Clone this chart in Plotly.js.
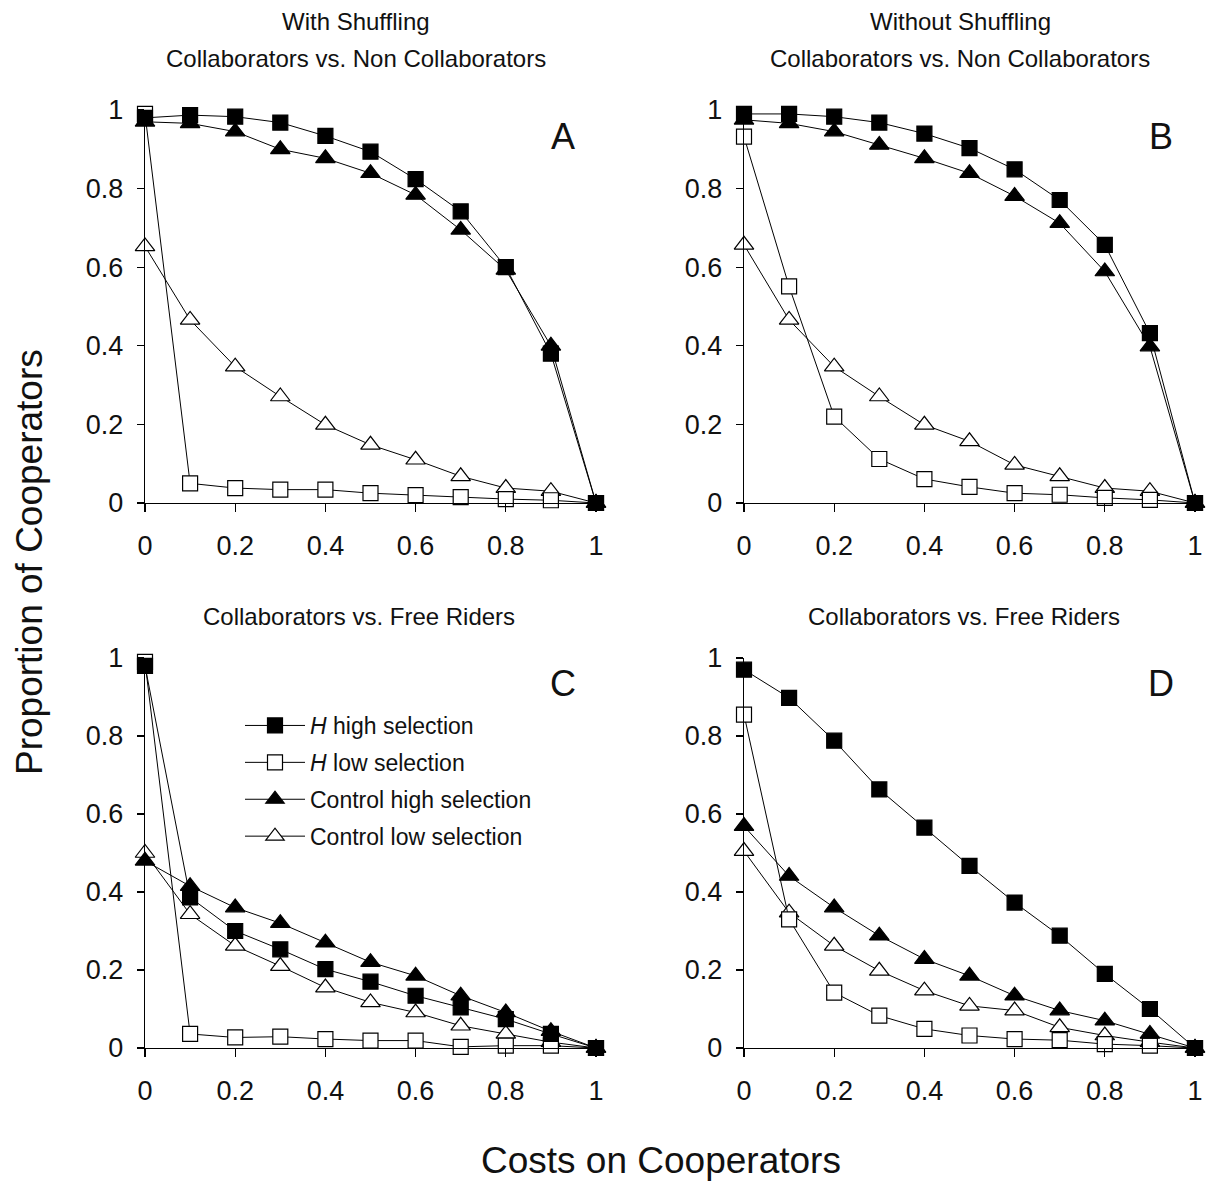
<!DOCTYPE html>
<html>
<head>
<meta charset="utf-8">
<script src="https://cdn.plot.ly/plotly-3.0.1.min.js"></script>
<style>html,body{margin:0;padding:0;background:#fff;}#chart{width:1215px;height:1184px;}</style>
</head>
<body>
<div id="chart"></div>
<script>
// Costs on cooperators (x values shared by all panels)
const costs = [0, 0.1, 0.2, 0.3, 0.4, 0.5, 0.6, 0.7, 0.8, 0.9, 1];
const seriesNames = ["<i>H</i> high selection", "<i>H</i> low selection", "Control high selection", "Control low selection"];
const panelLabels = ["A", "B", "C", "D"];
const titlesTop = ["With Shuffling", "Without Shuffling"];
const titlesA = "Collaborators vs. Non Collaborators";
const titlesC = "Collaborators vs. Free Riders";
const xTitle = "Costs on Cooperators";
const yTitle = "Proportion of Cooperators";

// Panel A: with shuffling, collaborators vs non collaborators
const A_hHigh = [0.98, 0.987, 0.983, 0.968, 0.934, 0.894, 0.824, 0.742, 0.60, 0.38, 0];
const A_hLow  = [0.99, 0.05, 0.038, 0.034, 0.034, 0.025, 0.02, 0.015, 0.01, 0.007, 0];
const A_cHigh = [0.97, 0.966, 0.945, 0.90, 0.877, 0.839, 0.784, 0.695, 0.593, 0.40, 0];
const A_cLow  = [0.653, 0.466, 0.347, 0.271, 0.199, 0.148, 0.11, 0.068, 0.038, 0.03, 0];

// Panel B: without shuffling, collaborators vs non collaborators
const B_hHigh = [0.99, 0.99, 0.983, 0.968, 0.94, 0.903, 0.849, 0.771, 0.657, 0.432, 0];
const B_hLow  = [0.932, 0.551, 0.22, 0.112, 0.061, 0.041, 0.025, 0.021, 0.013, 0.008, 0];
const B_cHigh = [0.975, 0.966, 0.945, 0.911, 0.877, 0.839, 0.781, 0.712, 0.589, 0.398, 0];
const B_cLow  = [0.657, 0.466, 0.347, 0.271, 0.199, 0.157, 0.097, 0.068, 0.038, 0.03, 0];

// Panel C: with shuffling, collaborators vs free riders
const C_hHigh = [0.98, 0.386, 0.30, 0.253, 0.202, 0.17, 0.134, 0.104, 0.074, 0.036, 0];
const C_hLow  = [0.99, 0.036, 0.027, 0.029, 0.023, 0.019, 0.019, 0.003, 0.006, 0.006, 0];
const C_cHigh = [0.48, 0.415, 0.36, 0.32, 0.27, 0.22, 0.185, 0.134, 0.091, 0.043, 0];
const C_cLow  = [0.50, 0.343, 0.262, 0.21, 0.155, 0.117, 0.091, 0.057, 0.036, 0.015, 0];

// Panel D: without shuffling, collaborators vs free riders
const D_hHigh = [0.97, 0.898, 0.788, 0.663, 0.565, 0.467, 0.373, 0.288, 0.19, 0.10, 0];
const D_hLow  = [0.855, 0.33, 0.142, 0.083, 0.049, 0.032, 0.023, 0.02, 0.01, 0.006, 0];
const D_cHigh = [0.569, 0.441, 0.36, 0.288, 0.228, 0.185, 0.134, 0.096, 0.07, 0.036, 0];
const D_cLow  = [0.505, 0.347, 0.262, 0.198, 0.147, 0.108, 0.096, 0.053, 0.032, 0.015, 0];

const panels = [
  {hHigh: A_hHigh, hLow: A_hLow, cHigh: A_cHigh, cLow: A_cLow},
  {hHigh: B_hHigh, hLow: B_hLow, cHigh: B_cHigh, cLow: B_cLow},
  {hHigh: C_hHigh, hLow: C_hLow, cHigh: C_cHigh, cLow: C_cLow},
  {hHigh: D_hHigh, hLow: D_hLow, cHigh: D_cHigh, cLow: D_cLow}
];

const W = 1215, H = 1184;
const FONT = "Liberation Sans, Arial, sans-serif";
const xDom = [[145 / W, 596 / W], [744 / W, 1195 / W]];
const yDom = [[(H - 503) / H, (H - 110) / H], [(H - 1048) / H, (H - 658) / H]];

const styles = [
  {key: "cLow",  name: seriesNames[3], symbol: "triangle-up", size: 17, fill: "#ffffff", g: "g4"},
  {key: "hLow",  name: seriesNames[1], symbol: "square", size: 15, fill: "#ffffff", g: "g2"},
  {key: "cHigh", name: seriesNames[2], symbol: "triangle-up", size: 17, fill: "#000000", g: "g3"},
  {key: "hHigh", name: seriesNames[0], symbol: "square", size: 15, fill: "#000000", g: "g1"}
];
const legendOrder = {g1: 1, g2: 2, g3: 3, g4: 4};

const traces = [];
panels.forEach((p, i) => {
  const ax = i === 0 ? "" : String(i + 1);
  styles.forEach(s => {
    traces.push({
      type: "scatter", mode: "lines+markers",
      x: costs, y: p[s.key],
      xaxis: "x" + ax, yaxis: "y" + ax,
      name: s.name, legendgroup: s.g, legendrank: legendOrder[s.g],
      showlegend: i === 2,
      cliponaxis: false,
      line: {color: "#000", width: 1},
      marker: {symbol: s.symbol, size: s.size, color: s.fill, line: {color: "#000", width: 1.2}}
    });
  });
});

const layout = {
  width: W, height: H,
  margin: {l: 0, r: 0, t: 0, b: 0},
  paper_bgcolor: "#fff", plot_bgcolor: "#fff",
  font: {family: FONT, color: "#111"},
  showlegend: true,
  legend: {
    x: 240 / W, y: (H - 704) / H, xanchor: "left", yanchor: "top",
    bgcolor: "rgba(0,0,0,0)", font: {family: FONT, size: 23, color: "#111"},
    traceorder: "grouped", tracegroupgap: 4, itemwidth: 60
  },
  annotations: []
};

for (let i = 0; i < 4; i++) {
  const ax = i === 0 ? "" : String(i + 1);
  const col = i % 2, row = Math.floor(i / 2);
  layout["xaxis" + ax] = {
    domain: xDom[col], anchor: "y" + ax, range: [0, 1], dtick: 0.2, tick0: 0,
    showgrid: false, zeroline: false, showline: true, linecolor: "#000", linewidth: 1.2,
    ticks: "outside", ticklen: 8, tickcolor: "#000", tickwidth: 1.2,
    ticklabelstandoff: 10,
    tickfont: {family: FONT, size: 27, color: "#111"}, fixedrange: true
  };
  layout["yaxis" + ax] = {
    domain: yDom[row], anchor: "x" + ax, range: [0, 1], dtick: 0.2, tick0: 0,
    showgrid: false, zeroline: false, showline: true, linecolor: "#000", linewidth: 1.2,
    ticks: "outside", ticklen: 7, tickcolor: "#000", tickwidth: 1.2,
    ticklabelstandoff: 8,
    tickfont: {family: FONT, size: 27, color: "#111"}, fixedrange: true
  };
  layout.annotations.push({
    text: panelLabels[i], xref: "paper", yref: "paper",
    x: (col === 0 ? 563 : 1161) / W, y: (H - (row === 0 ? 137 : 683)) / H,
    xanchor: "center", yanchor: "middle", showarrow: false,
    font: {family: FONT, size: 36, color: "#111"}
  });
}

// Panel headings
const headCx = [356, 960];
const headCx2 = [359, 964];
[0, 1].forEach(c => {
  layout.annotations.push({text: titlesTop[c], xref: "paper", yref: "paper", x: headCx[c] / W, y: (H - 22) / H,
    xanchor: "center", yanchor: "middle", showarrow: false, font: {family: FONT, size: 24, color: "#111"}});
  layout.annotations.push({text: titlesA, xref: "paper", yref: "paper", x: headCx[c] / W, y: (H - 59) / H,
    xanchor: "center", yanchor: "middle", showarrow: false, font: {family: FONT, size: 24, color: "#111"}});
  layout.annotations.push({text: titlesC, xref: "paper", yref: "paper", x: headCx2[c] / W, y: (H - 616) / H,
    xanchor: "center", yanchor: "middle", showarrow: false, font: {family: FONT, size: 24, color: "#111"}});
});

layout.annotations.push({text: xTitle, xref: "paper", yref: "paper", x: 661 / W, y: (H - 1160) / H,
  xanchor: "center", yanchor: "middle", showarrow: false, font: {family: FONT, size: 37, color: "#111"}});
layout.annotations.push({text: yTitle, xref: "paper", yref: "paper", x: 29 / W, y: (H - 562) / H,
  xanchor: "center", yanchor: "middle", showarrow: false, textangle: -90, font: {family: FONT, size: 37, color: "#111"}});

Plotly.newPlot("chart", traces, layout, {displayModeBar: false, staticPlot: true});
</script>
</body>
</html>
